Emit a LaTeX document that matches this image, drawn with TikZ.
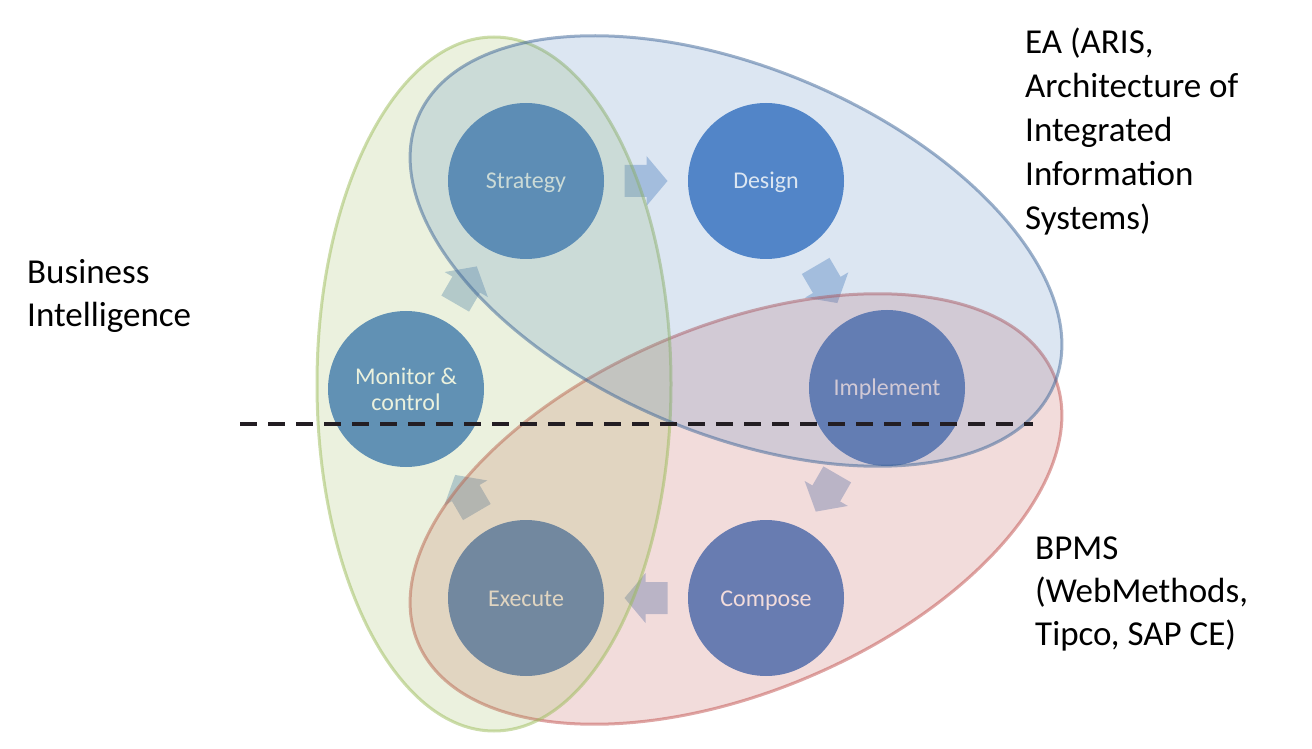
\documentclass[tikz,border=0pt]{standalone}
\usepackage{fontspec}
\setmainfont{Carlito}
\usetikzlibrary{calc}
\definecolor{circ}{RGB}{83,135,203}
\definecolor{arrf}{RGB}{185,205,229}
\definecolor{gacc}{RGB}{155,187,89}
\definecolor{bacc}{RGB}{79,129,189}
\definecolor{racc}{RGB}{192,80,77}
\definecolor{bline}{RGB}{60,100,150}
\definecolor{dashcol}{RGB}{35,30,35}
\begin{document}
\begin{tikzpicture}[x=1pt,y=1pt,
  stage/.style={circle, fill=circ, minimum size=156pt, inner sep=0pt, text=white,
    font=\fontsize{24}{26}\selectfont, align=center},
  stageone/.style={stage, text height=16pt, text depth=0pt},
  lbl/.style={anchor=base west, inner sep=0pt, font=\fontsize{35}{43}\selectfont},
  region/.style={line width=3pt, fill opacity=0.2, draw opacity=0.5},
  blockarr/.pic={\fill[arrf] (-21.5,-16) -- (0.5,-16) -- (0.5,-25) -- (21.5,0) -- (0.5,25) -- (0.5,16) -- (-21.5,16) -- cycle;}]
\useasboundingbox (0,0) rectangle (1312,748);

% stages
\node[stageone] (strategy) at (526,567) {Strategy};
\node[stageone] (design) at (766,567) {Design};
\node[stageone] (implement) at (887,360) {Implement};
\node[stageone] (compose) at (766,150) {Compose};
\node[stageone] (execute) at (526,150) {Execute};
\node[stage] (monitor) at (406,359) {Monitor \&\\control};

% block arrows
\pic[rotate=0] at ($(strategy)!0.5!(design)$) {blockarr};
\pic[rotate=-59.7] at ($(design)!0.5!(implement)$) {blockarr};
\pic[rotate=-120] at ($(implement)!0.5!(compose)$) {blockarr};
\pic[rotate=180] at ($(compose)!0.5!(execute)$) {blockarr};
\pic[rotate=120.3] at ($(execute)!0.5!(monitor)$) {blockarr};
\pic[rotate=59.9] at ($(monitor)!0.5!(strategy)$) {blockarr};

% regions
\draw[region, draw=racc, fill=racc, rotate around={22.8:(736,239)}] (736,239) ellipse [x radius=345, y radius=183];
\draw[region, draw=gacc, fill=gacc] (494,364) ellipse [x radius=177, y radius=347];
\draw[region, draw=bline, fill=bacc, rotate around={-22.8:(736,497)}] (736,497) ellipse [x radius=345, y radius=183];

% dashed divider
\coordinate (dl) at (240,324);
\coordinate (dr) at (1033,324);
\draw[dashcol, line width=3.5pt, dash pattern=on 16.7pt off 11.3pt] (dl) -- (dr);

% labels
\node[lbl] (ea1) at (1025,694.5) {EA (ARIS,};
\node[lbl] (ea2) at (1025,650.5) {Architecture of};
\node[lbl] (ea3) at (1025,606.5) {Integrated};
\node[lbl] (ea4) at (1025,562.5) {Information};
\node[lbl] (ea5) at (1025,518.5) {Systems)};
\node[lbl] (bi1) at (27,464) {Business};
\node[lbl] (bi2) at (27,421) {Intelligence};
\node[lbl] (bp1) at (1035,188.5) {BPMS};
\node[lbl] (bp2) at (1035,145.5) {(WebMethods,};
\node[lbl] (bp3) at (1035,102.5) {Tipco, SAP CE)};
\end{tikzpicture}
\end{document}
